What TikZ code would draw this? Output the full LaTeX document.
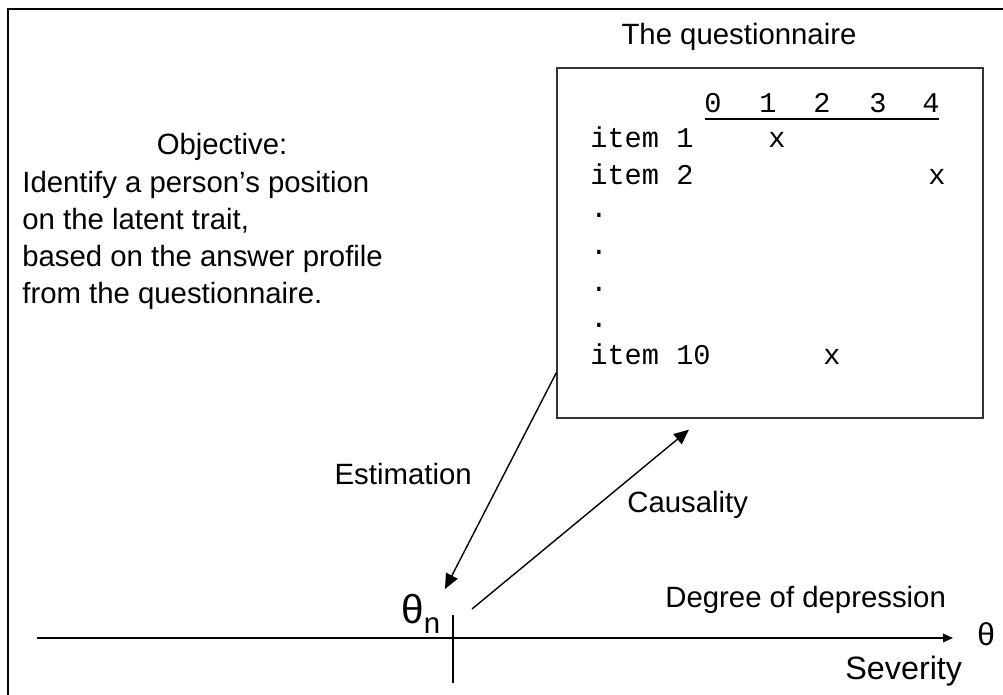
\documentclass[tikz,border=0pt]{standalone}
\usepackage{fontspec}
\setmainfont{Liberation Sans}
\newfontfamily\monofont{Liberation Mono}
\usetikzlibrary{arrows.meta,positioning,calc}

\tikzset{
  lbl/.style={inner sep=0pt, font=\fontsize{16.7}{20}\selectfont},
  mono/.style={inner sep=0pt, font=\monofont\fontsize{16.3}{20}\selectfont},
  link/.style={->, line width=0.8pt},
}

\begin{document}
\begin{tikzpicture}[x=0.02cm, y=-0.02cm, >={Triangle[length=3mm,width=2.6mm]}]
\useasboundingbox (0,0) rectangle (1003,695);
% frame
\draw[line width=1.1pt] (1003,9) -| (8,695);

% objective text
\node[lbl, anchor=base] (obj) at (222,155) {Objective:};
\node[lbl, anchor=base west] (goal1) at (22,193) {Identify a person’s position};
\node[lbl, anchor=base west] (goal2) at (22,230) {on the latent trait,};
\node[lbl, anchor=base west] (goal3) at (22,267) {based on the answer profile};
\node[lbl, anchor=base west] (goal4) at (22,304) {from the questionnaire.};

% questionnaire
\node[lbl, anchor=base] (qtitle) at (739,45) {The questionnaire};
\node[draw=black!80, line width=0.8pt, inner sep=0pt,
      minimum width=8.52cm, minimum height=7cm] (quest) at (770,243) {};
\foreach \d/\x in {0/713,1/768,2/822,3/878,4/931}
  \node[mono, anchor=base] (h\d) at (\x,113) {\d};
\draw[line width=0.6pt] (705,119) -- (939,119);
\node[mono, anchor=base west] (item1) at (590,148) {item 1};
\node[mono, anchor=base] (x1) at (777,148) {x};
\node[mono, anchor=base west] (item2) at (590,185) {item 2};
\node[mono, anchor=base] (x2) at (937,185) {x};
\foreach \i/\y in {1/218,2/255,3/292,4/328}
  \node[mono, anchor=base west] (dot\i) at (590,\y) {.};
\node[mono, anchor=base west] (item10) at (590,365) {item 10};
\node[mono, anchor=base] (x10) at (832,365) {x};

% arrows
\coordinate (estEnd) at (445,589);
\coordinate (causStart) at (472,609);
\draw[link] ($(quest.south west)+(0,-46)$) -- (estEnd);
\draw[link] (causStart) -- ($(quest.south)+(-81,11)$);
\node[lbl, anchor=base east] (est) at (472,484) {Estimation};
\node[lbl, anchor=base west] (caus) at (627,512) {Causality};

% latent trait axis
\coordinate (axL) at (37,638);
\coordinate (axR) at (953,638);
\draw[-{Triangle[length=2mm,width=1.7mm]}, line width=1pt] (axL) -- (axR);
\node[lbl, anchor=base west, font=\fontsize{18}{20}\selectfont] (theta) at (977,645) {θ};
\coordinate (tickT) at (453,615);
\coordinate (tickB) at (453,683);
\draw[line width=0.6pt] (tickT) -- (tickB);
\node[lbl, anchor=base west] (thetan) at (401,623) {{\fontsize{23}{26}\selectfont θ}\raisebox{-0.2cm}{n}};
\node[lbl, anchor=base west] (degree) at (665,607) {Degree of depression};
\node[lbl, anchor=base west, font=\fontsize{18.4}{20}\selectfont] (sev) at (845,679) {Severity};
\end{tikzpicture}
\end{document}
